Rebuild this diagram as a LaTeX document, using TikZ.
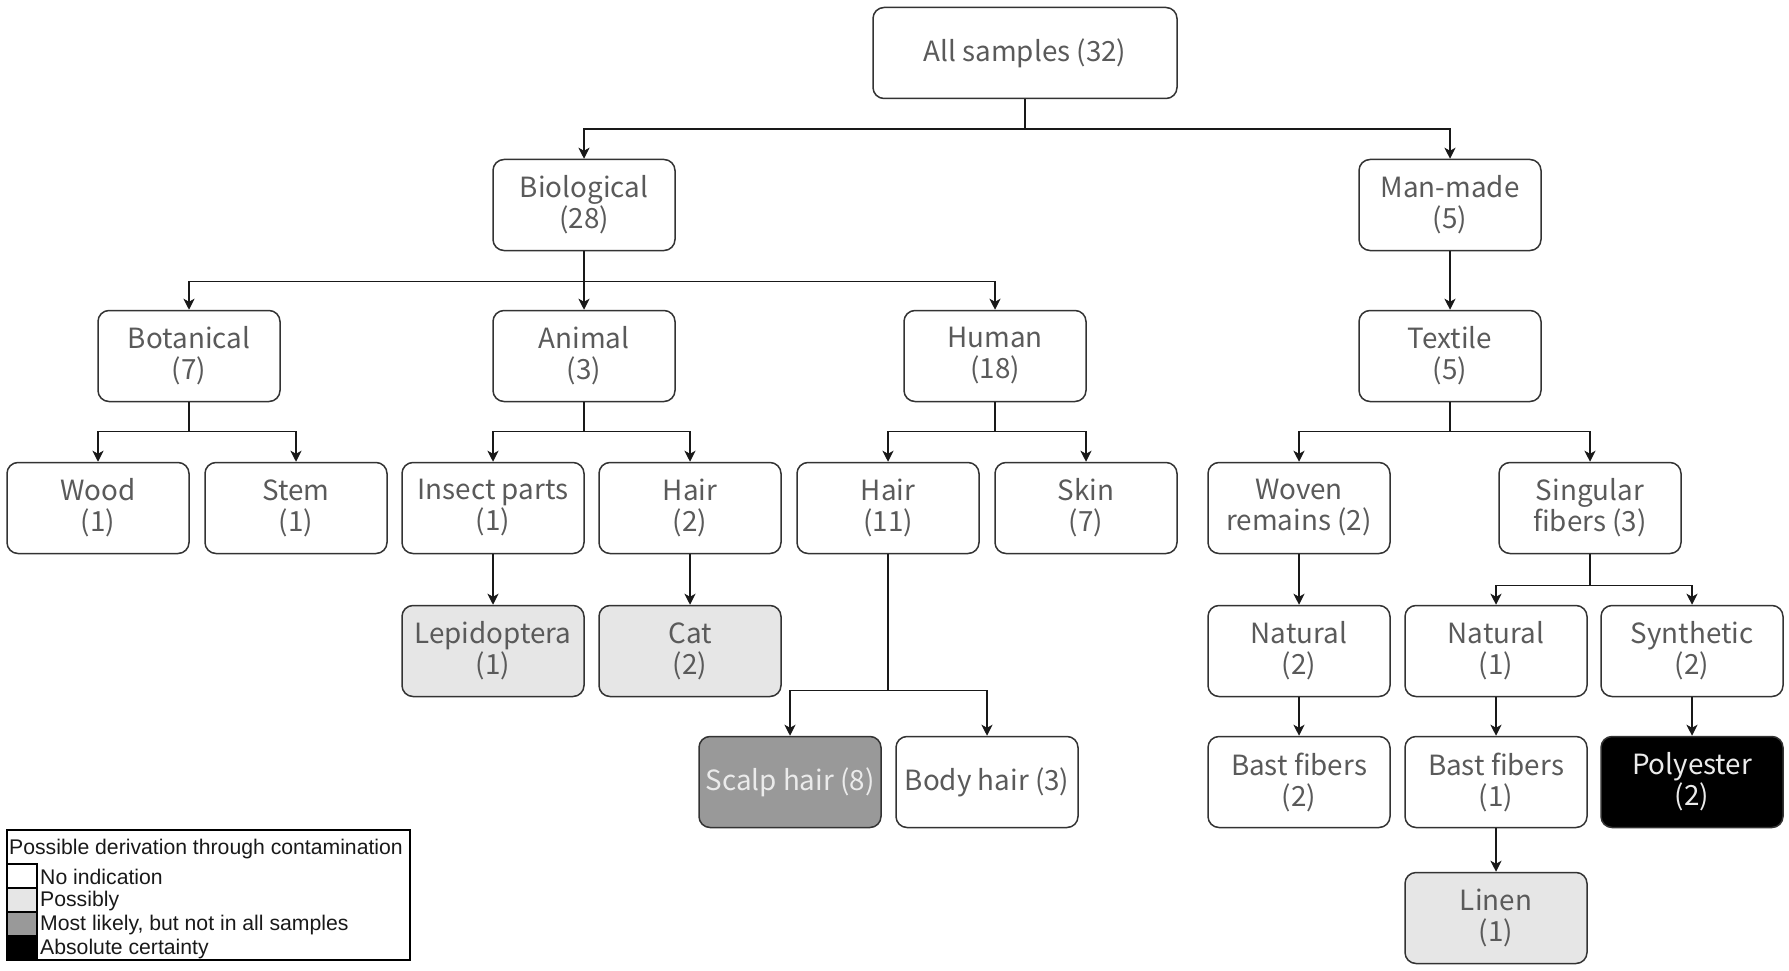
\documentclass[tikz,border=0pt]{standalone}
\usepackage{fontspec}
\usetikzlibrary{arrows.meta}
\newfontfamily\nodefnt{Noto Sans CJK JP}
\newfontfamily\legfnt{Liberation Sans}
\definecolor{txtgray}{HTML}{5A5A5A}
\definecolor{lightfill}{HTML}{E6E6E6}
\definecolor{midfill}{HTML}{999999}
\definecolor{boxline}{HTML}{333333}
\tikzset{
  box/.style={draw=boxline, line width=1.5pt, rounded corners=11pt, minimum width=182pt, minimum height=91pt, align=center, text=txtgray, inner sep=0pt, font=\nodefnt\fontsize{27.8}{31}\selectfont},
  possibly/.style={box, fill=lightfill},
  likely/.style={box, fill=midfill, text=white!92!black},
  certain/.style={box, fill=black, text=white!92!black},
  arr/.style={draw=black!90, line width=1.5pt, -{Stealth[length=11pt,width=11pt,inset=3pt]}},
  ln/.style={draw=black!90, line width=1.5pt},
  leg/.style={font=\legfnt\fontsize{21.2}{24}\selectfont, text=black!90, inner sep=0pt, anchor=west},
  swatch/.style={draw=black, line width=1.2pt}
}
\begin{document}
\begin{tikzpicture}[x=1pt,y=-1pt]
\useasboundingbox (0,0) rectangle (1789,971);
% nodes
\node[box, minimum width=304pt] (all) at (1025,53) {All samples (32)};
\node[box] (bio) at (584,205) {Biological\\(28)};
\node[box] (man) at (1450,205) {Man-made\\(5)};
\node[box] (bot) at (189,356) {Botanical\\(7)};
\node[box] (ani) at (584,356) {Animal\\(3)};
\node[box] (hum) at (995,356) {Human\\(18)};
\node[box] (tex) at (1450,356) {Textile\\(5)};
\node[box] (wood) at (98,508) {Wood\\(1)};
\node[box] (stem) at (296,508) {Stem\\(1)};
\node[box] (ins) at (493,508) {Insect parts\\(1)};
\node[box] (ahair) at (690,508) {Hair\\(2)};
\node[box] (hhair) at (888,508) {Hair\\(11)};
\node[box] (skin) at (1086,508) {Skin\\(7)};
\node[box] (wov) at (1299,508) {Woven\\remains (2)};
\node[box] (sing) at (1590,508) {Singular\\fibers (3)};
\node[possibly] (lep) at (493,651) {Lepidoptera\\(1)};
\node[possibly] (cat) at (690,651) {Cat\\(2)};
\node[box] (nat2) at (1299,651) {Natural\\(2)};
\node[box] (nat1) at (1496,651) {Natural\\(1)};
\node[box] (syn) at (1692,651) {Synthetic\\(2)};
\node[likely] (scalp) at (790,782) {Scalp hair (8)};
\node[box] (body) at (987,782) {Body hair (3)};
\node[box] (bast2) at (1299,782) {Bast fibers\\(2)};
\node[box] (bast1) at (1496,782) {Bast fibers\\(1)};
\node[certain] (poly) at (1692,782) {Polyester\\(2)};
\node[possibly] (linen) at (1496,918) {Linen\\(1)};
% connectors
\draw[ln] (all.south) -- ++(0,30) coordinate (j0);
\draw[arr] (j0) -| (bio.north);
\draw[arr] (j0) -| (man.north);
\draw[ln] (bio.south) -- ++(0,30) coordinate (j1);
\draw[arr] (j1) -| (bot.north);
\draw[arr] (j1) -- (ani.north);
\draw[arr] (j1) -| (hum.north);
\draw[arr] (man.south) -- (tex.north);
\draw[ln] (bot.south) -- ++(0,29) coordinate (j2);
\draw[arr] (j2) -| (wood.north);
\draw[arr] (j2) -| (stem.north);
\draw[ln] (ani.south) -- ++(0,29) coordinate (j3);
\draw[arr] (j3) -| (ins.north);
\draw[arr] (j3) -| (ahair.north);
\draw[ln] (hum.south) -- ++(0,29) coordinate (j4);
\draw[arr] (j4) -| (hhair.north);
\draw[arr] (j4) -| (skin.north);
\draw[ln] (tex.south) -- ++(0,29) coordinate (j5);
\draw[arr] (j5) -| (wov.north);
\draw[arr] (j5) -| (sing.north);
\draw[arr] (ins.south) -- (lep.north);
\draw[arr] (ahair.south) -- (cat.north);
\draw[ln] (hhair.south) -- ++(0,136) coordinate (j6);
\draw[arr] (j6) -| (scalp.north);
\draw[arr] (j6) -| (body.north);
\draw[arr] (wov.south) -- (nat2.north);
\draw[arr] (nat2.south) -- (bast2.north);
\draw[ln] (sing.south) -- ++(0,31) coordinate (j7);
\draw[arr] (j7) -| (nat1.north);
\draw[arr] (j7) -| (syn.north);
\draw[arr] (nat1.south) -- (bast1.north);
\draw[arr] (bast1.south) -- (linen.north);
\draw[arr] (syn.south) -- (poly.north);
% legend
\draw[line width=1.2pt] (7,830) rectangle (410,960);
\node[leg] (lt) at (9,849) {Possible derivation through contamination};
\draw[swatch, fill=white] (7,864) rectangle (37,888);
\draw[swatch, fill=lightfill] (7,888) rectangle (37,912);
\draw[swatch, fill=midfill] (7,912) rectangle (37,936);
\draw[swatch, fill=black] (7,936) rectangle (37,960);
\node[leg] (l1) at (40,877) {No indication};
\node[leg] (l2) at (40,901) {Possibly};
\node[leg] (l3) at (40,925) {Most likely, but not in all samples};
\node[leg] (l4) at (40,949) {Absolute certainty};
\end{tikzpicture}
\end{document}
